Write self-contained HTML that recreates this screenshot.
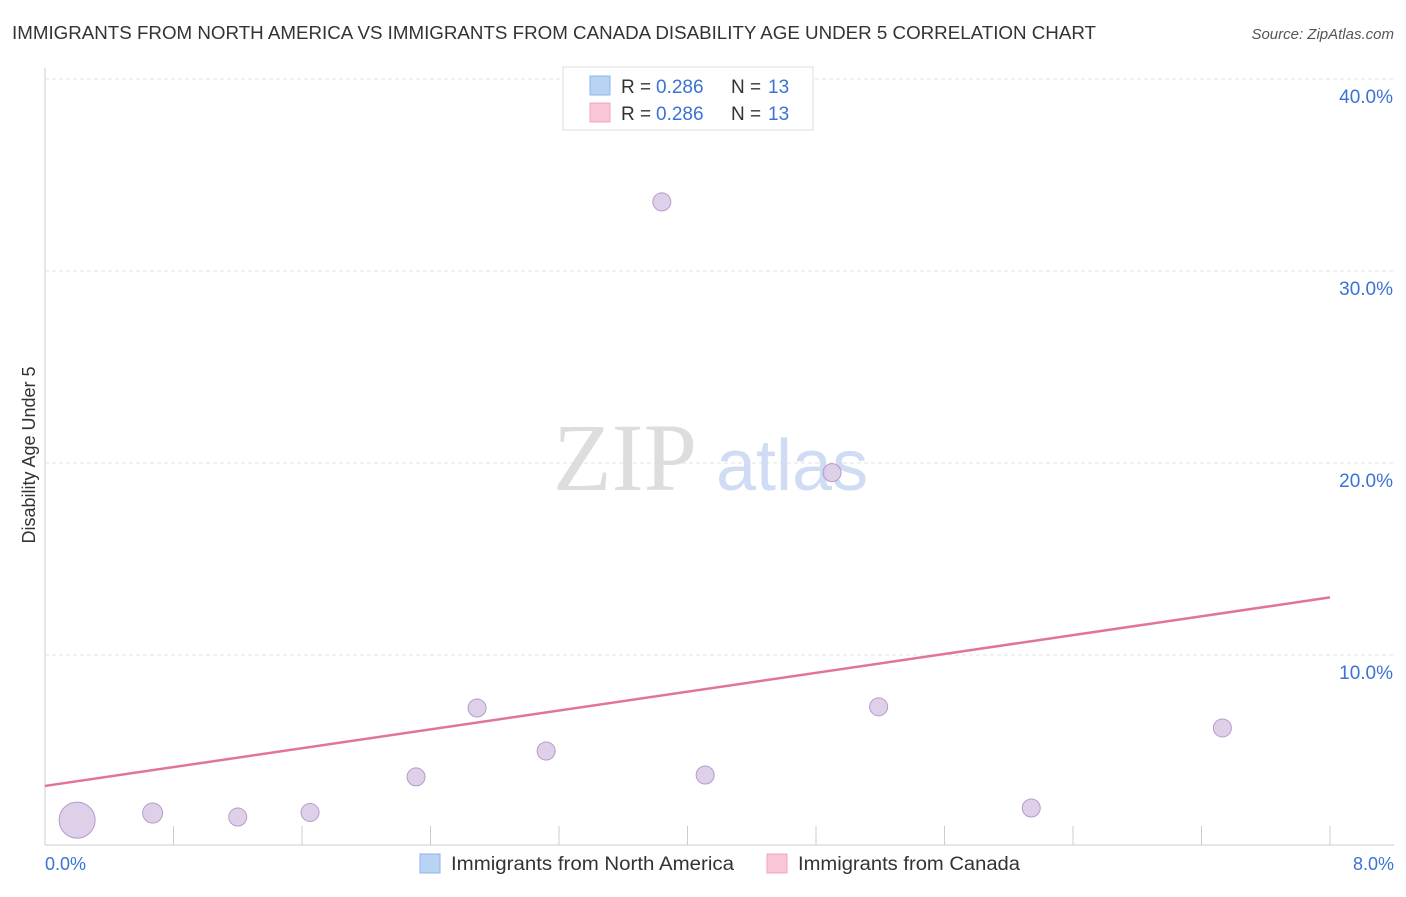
<!DOCTYPE html>
<html><head><meta charset="utf-8"><style>
body{margin:0;background:#fff;font-family:"Liberation Sans",sans-serif;}
svg text{font-family:"Liberation Sans",sans-serif;}
</style></head><body>
<svg id="chart" width="1406" height="892">
<text x="12" y="39" font-size="18" fill="#333" textLength="1084" lengthAdjust="spacingAndGlyphs">IMMIGRANTS FROM NORTH AMERICA VS IMMIGRANTS FROM CANADA DISABILITY AGE UNDER 5 CORRELATION CHART</text>
<text x="1394" y="39" font-size="15" fill="#555" font-style="italic" text-anchor="end">Source: ZipAtlas.com</text>
<g id="grid"></g>
<g id="yticks"></g>
<line x1="45" y1="68" x2="45" y2="845" stroke="#ccc"/>
<line x1="45" y1="845" x2="1394" y2="845" stroke="#ccc"/>
<g id="xticks"></g>
<text x="553" y="490" font-size="96" fill="#ddd" style="font-family:'Liberation Serif',serif">ZIP</text>
<text x="716" y="490" font-size="72" fill="#cfdcf3">atlas</text>
<text x="35" y="455" font-size="18" fill="#333" text-anchor="middle" transform="rotate(-90 35 455)">Disability Age Under 5</text>
<g id="marks"></g>
<text x="45" y="870" font-size="18" fill="#3a73d4">0.0%</text>
<text x="1394" y="870" font-size="18" fill="#3a73d4" text-anchor="end">8.0%</text>
<g>
<rect x="563" y="67" width="250" height="63" fill="#fff" stroke="#ddd"/>
<rect x="590" y="76" width="20" height="19" fill="#b9d3f5" stroke="#8fb3e6"/>
<rect x="590" y="103" width="20" height="19" fill="#f9c6d6" stroke="#eea5bd"/>
<text x="621" y="93" font-size="19" fill="#333">R =</text>
<text x="656" y="93" font-size="19" fill="#3a73d4">0.286</text>
<text x="731" y="93" font-size="19" fill="#333">N =</text>
<text x="768" y="93" font-size="19" fill="#3a73d4">13</text>
<text x="621" y="120" font-size="19" fill="#333">R =</text>
<text x="656" y="120" font-size="19" fill="#3a73d4">0.286</text>
<text x="731" y="120" font-size="19" fill="#333">N =</text>
<text x="768" y="120" font-size="19" fill="#3a73d4">13</text>
</g>
<g>
<rect x="420" y="854" width="20" height="19" fill="#b9d3f5" stroke="#8fb3e6"/>
<text x="451" y="870" font-size="19" fill="#333" textLength="283" lengthAdjust="spacingAndGlyphs">Immigrants from North America</text>
<rect x="767" y="854" width="20" height="19" fill="#f9c6d6" stroke="#eea5bd"/>
<text x="798" y="870" font-size="19" fill="#333" textLength="222" lengthAdjust="spacingAndGlyphs">Immigrants from Canada</text>
</g>
</svg>
<script>
const xValues=[0.2,0.67,1.2,1.65,2.31,2.69,3.12,3.84,4.11,4.9,5.19,6.14,7.33];
const yValues=[1.4,1.77,1.56,1.8,3.65,7.24,5.0,33.6,3.75,19.5,7.3,2.03,6.2];
const sizes=[18,10,9,9,9,9,9,9,9,9,9,9,9];
const trendStart=[0,3.18];
const trendEnd=[8,13.0];
const yTicks=[10,20,30,40];
const yTickLabels=["10.0%","20.0%","30.0%","40.0%"];
const xTicks=[0,0.8,1.6,2.4,3.2,4,4.8,5.6,6.4,7.2,8];
const NS="http://www.w3.org/2000/svg";
const sx=v=>45+v*(1330-45)/8;
const sy=v=>847-v*19.2;
function mk(t,a,p){const e=document.createElementNS(NS,t);for(const k in a)e.setAttribute(k,a[k]);p.appendChild(e);return e;}
const grid=document.getElementById('grid'),yt=document.getElementById('yticks'),xt=document.getElementById('xticks'),marks=document.getElementById('marks');
yTicks.forEach((v,i)=>{
 const l=mk('line',{x1:45,x2:1394,y1:sy(v),y2:sy(v),stroke:'#e3e3e3','stroke-dasharray':'4,3'},grid);
 
 
 const t=mk('text',{x:1393,y:sy(v)+24,'font-size':19,fill:'#3a73d4','text-anchor':'end'},yt);
 t.textContent=yTickLabels[i];
 
 
});
xTicks.forEach(v=>{
 const l=mk('line',{x1:sx(v),x2:sx(v),y1:826,y2:845,stroke:'#ccc'},xt);
 
 
});
xValues.forEach((x,i)=>{
 const c=mk('circle',{cx:sx(x),cy:sy(yValues[i]),r:sizes[i],fill:'#d9c8e6','fill-opacity':0.85,stroke:'#b79acb','stroke-width':1},marks);
 
 
});
const tl=mk('line',{x1:sx(trendStart[0]),y1:sy(trendStart[1]),x2:sx(trendEnd[0]),y2:sy(trendEnd[1]),stroke:'#e0749a','stroke-width':2.5},marks);


</script>
</body></html>
